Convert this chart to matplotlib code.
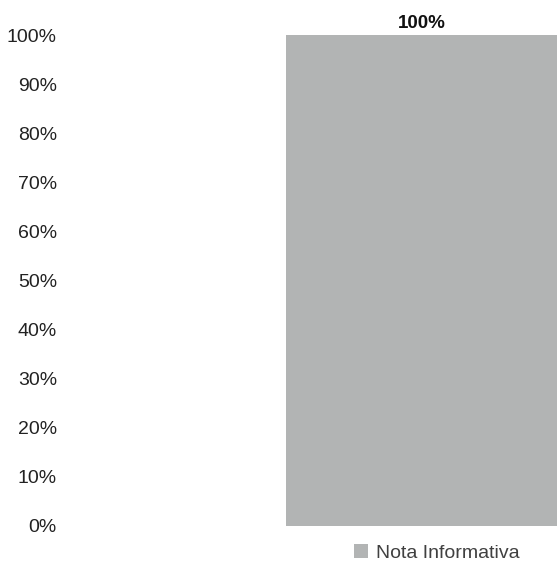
import matplotlib
matplotlib.use("Agg")
import matplotlib.pyplot as plt

plt.rcParams['font.family'] = ['Liberation Sans Narrow', 'Liberation Sans', 'DejaVu Sans']

categories = ['Nota Informativa']
values = [1.0]
yticks = [0, 0.1, 0.2, 0.3, 0.4, 0.5, 0.6, 0.7, 0.8, 0.9, 1.0]
ytick_labels = ['0%', '10%', '20%', '30%', '40%', '50%', '60%', '70%', '80%', '90%', '100%']

W, H = 558, 563
fig = plt.figure(figsize=(W / 100, H / 100), dpi=100)
# axes in pixel coordinates: left 65, right 558, bottom 526 (from top), top 20
ax = fig.add_axes([65 / W, (H - 526) / H, (558 - 65) / W, (526 - 20) / H])

bars = ax.bar([0], values, width=0.8, color='#b2b4b4', label=categories[0])
ax.set_xlim(-1.052, 0.403)
ax.set_ylim(0, (526 - 20) / 491)

ax.set_yticks(yticks)
ax.set_yticklabels(ytick_labels, fontsize=14, color='#222222')
ax.set_xticks([])
ax.tick_params(axis='y', length=0, pad=5.8)
for s in ax.spines.values():
    s.set_visible(False)

for b, v in zip(bars, values):
    ax.text(b.get_x() + b.get_width() / 2, v + 0.006, f'{v:.0%}', ha='center', va='bottom',
            fontsize=13.5, fontweight='bold', color='#111111')

leg = fig.legend(handles=[bars[0]], labels=categories, loc='center', bbox_to_anchor=(437 / W, (H - 553) / H),
                 frameon=False, fontsize=14, handlelength=0.72, handleheight=0.72, handletextpad=0.42,
                 borderpad=0, borderaxespad=0)
for t in leg.get_texts():
    t.set_color('#404040')

fig.savefig('out.png', dpi=100)
